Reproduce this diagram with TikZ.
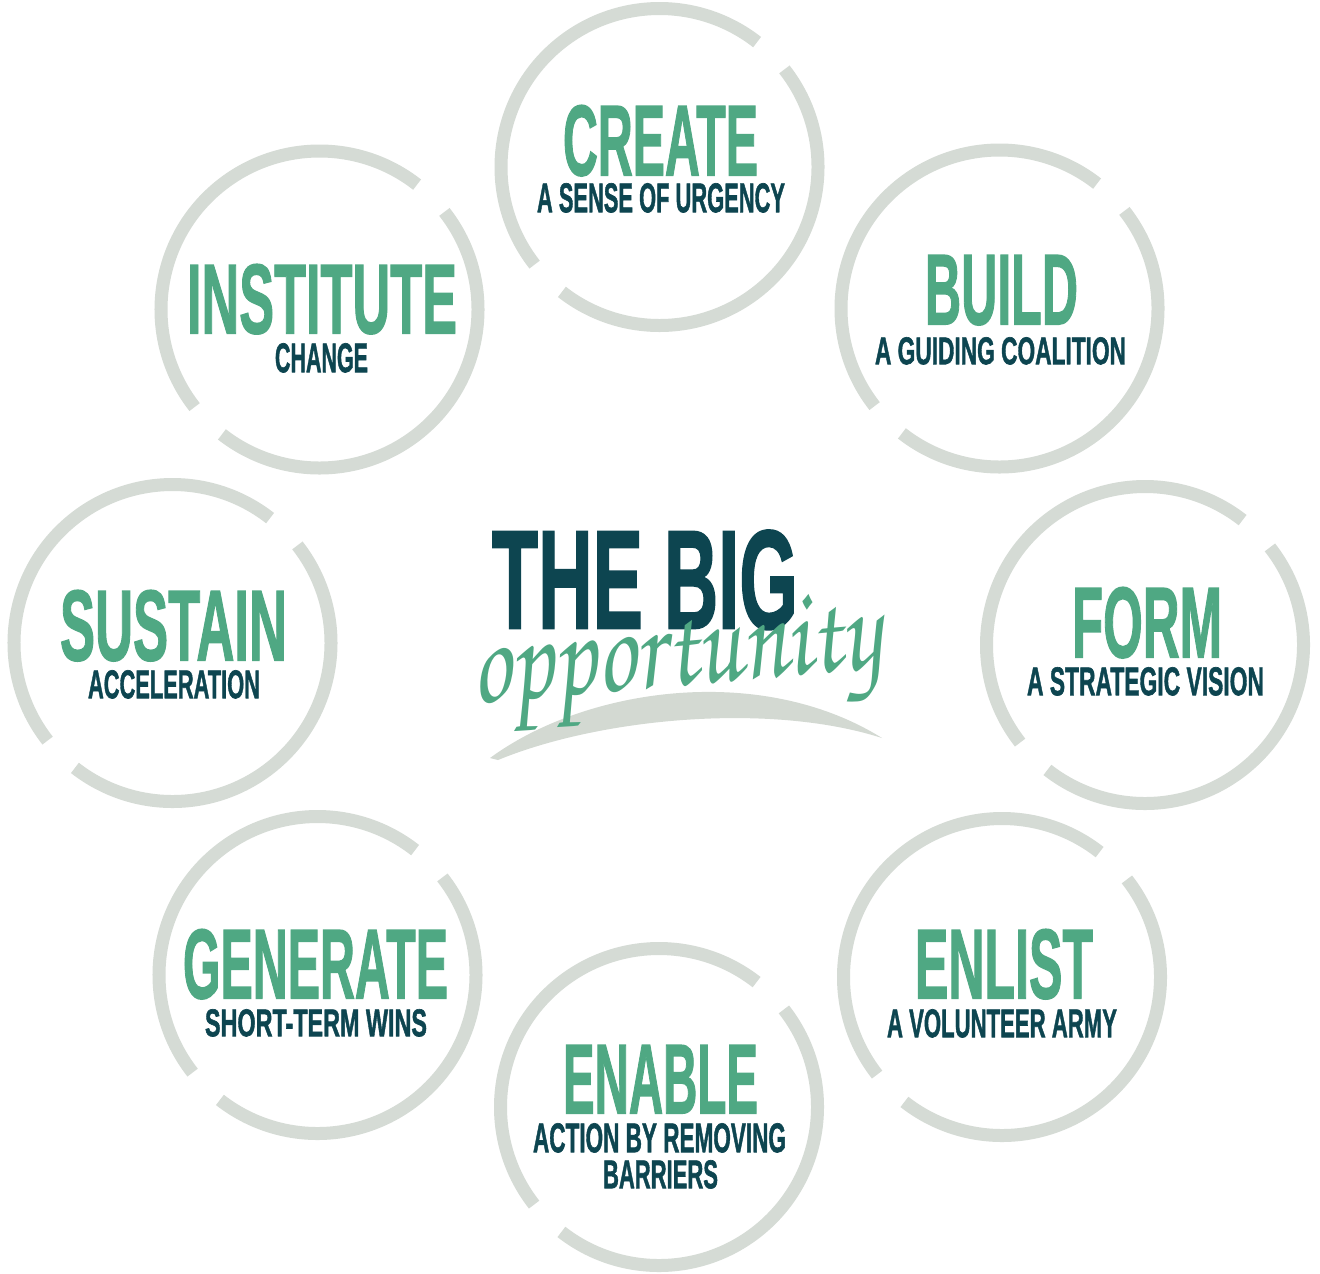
\documentclass[tikz,border=0pt]{standalone}
\usepackage{fontspec}
\usepackage{graphicx}
\newfontfamily\hfont{Liberation Sans Bold}[FakeBold=1.6]
\newfontfamily\brushfont{texgyrechorus-mediumitalic.otf}
\definecolor{grn}{HTML}{4FA883}
\definecolor{darkt}{HTML}{0D4550}
\definecolor{ringc}{HTML}{D5DBD5}
\definecolor{swoosh}{HTML}{D3D9D2}
\newcommand\captxt[3]{\resizebox{#1bp}{#2bp}{\fontsize{20}{24}\hfont #3}}
\tikzset{
  ring/.style={draw=ringc, line width=13bp, line cap=butt},
  head/.style={anchor=north, inner sep=0pt, text=grn},
  sub/.style={anchor=north, inner sep=0pt, text=darkt},
}
\newcommand\ringat[1]{%
  \draw[ring] (#1) ++(142:158.5) arc[start angle=142, end angle=308, radius=158.5];
  \draw[ring] (#1) ++(322:158.5) arc[start angle=322, end angle=488, radius=158.5];}
\begin{document}
\begin{tikzpicture}[x=1bp,y=-1bp]
\useasboundingbox (0,0) rectangle (1320,1273);
\fill[white] (0,0) rectangle (1320,1273);
% ring centres
\coordinate (cCreate) at (659.5,167);
\coordinate (cBuild) at (999.5,308.5);
\coordinate (cInst) at (319.5,309.5);
\coordinate (cSust) at (172.5,643);
\coordinate (cForm) at (1145,645);
\coordinate (cGen) at (317.5,975);
\coordinate (cEnl) at (1002,977);
\coordinate (cEna) at (659,1107);
\ringat{cCreate}
\ringat{cBuild}
\ringat{cInst}
\ringat{cSust}
\ringat{cForm}
\ringat{cGen}
\ringat{cEnl}
\ringat{cEna}
% texts
\node[head] (create) at (660.5,105) {\captxt{195}{70}{CREATE}};
\node[sub] (createS) at (661,183) {\captxt{248}{29}{A SENSE OF URGENCY}};
\node[head] (inst) at (322,264) {\captxt{270}{69}{INSTITUTE}};
\node[sub] (instS) at (321.5,343) {\captxt{93}{29}{CHANGE}};
\node[head] (build) at (1001.5,255) {\captxt{153}{69}{BUILD}};
\node[sub] (buildS) at (1000.5,337) {\captxt{251}{27}{A GUIDING COALITION}};
\node[head] (sust) at (173.5,590) {\captxt{227}{70}{SUSTAIN}};
\node[sub] (sustS) at (174,670) {\captxt{172}{28}{ACCELERATION}};
\node[head] (form) at (1147,587) {\captxt{150}{70}{FORM}};
\node[sub] (formS) at (1145.5,667) {\captxt{237}{28}{A STRATEGIC VISION}};
\node[head] (gen) at (315.5,929) {\captxt{265}{69}{GENERATE}};
\node[sub] (genS) at (316,1009) {\captxt{222}{27}{SHORT-TERM WINS}};
\node[head] (enl) at (1004,929) {\captxt{178}{69}{ENLIST}};
\node[sub] (enlS) at (1002,1009) {\captxt{230}{28}{A VOLUNTEER ARMY}};
\node[head] (ena) at (660.5,1045) {\captxt{195}{68}{ENABLE}};
\node[sub] (enaS) at (659.5,1123) {\captxt{253}{29}{ACTION BY REMOVING}};
\node[sub] (enaS2) at (660.5,1160) {\captxt{115}{28}{BARRIERS}};
% centre
\fill[swoosh] (490,758) .. controls (585,688) and (760,662) .. (882,738)
  .. controls (770,702) and (600,718) .. (498,760) -- cycle;
\node[sub] (big) at (645,530) {\captxt{306}{98}{THE BIG}};
\node[inner sep=0pt, text=grn, rotate=5] (opp) at (676,662) {\scalebox{1}[1.3]{\resizebox{410bp}{!}{\brushfont opportunity}}};
\end{tikzpicture}
\end{document}
